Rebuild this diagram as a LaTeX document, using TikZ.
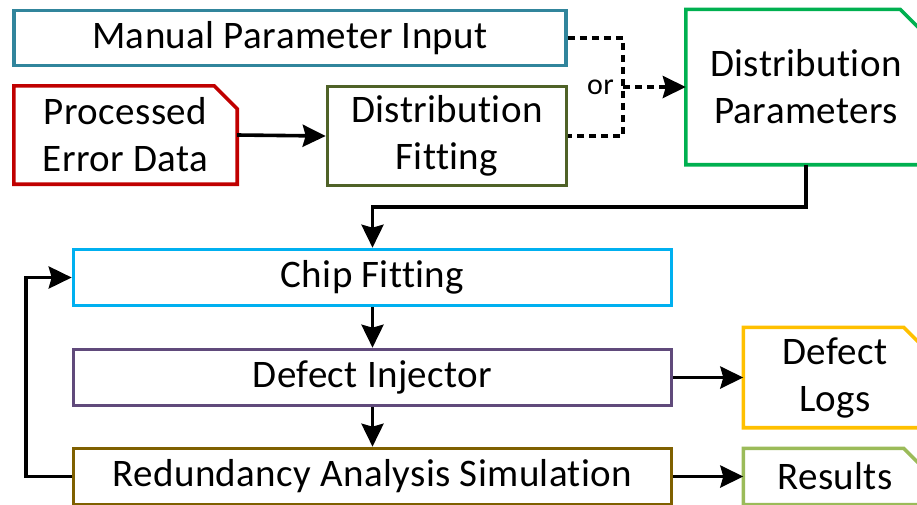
\documentclass[tikz,border=0pt]{standalone}
\usepackage{fontspec}
\setmainfont{Carlito}[Ligatures=NoCommon, LetterSpace=1]
\usetikzlibrary{arrows.meta}
\definecolor{cManual}{RGB}{49,133,156}
\definecolor{cProc}{RGB}{192,0,0}
\definecolor{cFit}{RGB}{79,98,40}
\definecolor{cParam}{RGB}{0,176,80}
\definecolor{cChip}{RGB}{0,176,240}
\definecolor{cInj}{RGB}{96,74,123}
\definecolor{cRed}{RGB}{127,96,0}
\definecolor{cLog}{RGB}{255,192,0}
\definecolor{cRes}{RGB}{155,187,89}
\begin{document}
\begin{tikzpicture}[x=1pt,y=-1pt,
  every node/.style={font=\fontsize{39}{47}\selectfont, inner sep=0pt, align=center},
  box/.style={draw=#1, line width=3.6pt, fill=white},
  snipbox/.style={draw=none},
  snipline/.style={draw=#1, line width=3.6pt, line join=miter},
  conn/.style={line width=3.6pt, black, -{Stealth[length=23pt,width=22pt,inset=3pt]}},
  dashedge/.style={line width=3.6pt, black, dash pattern=on 7pt off 5pt}]
\useasboundingbox (0,0) rectangle (917,504);
\clip (0,0) rectangle (917,504);

% boxes
\node[box=cManual, minimum width=552pt, minimum height=55pt] (manual) at (290,38) {Manual Parameter Input};
\node[snipbox, minimum width=223pt, minimum height=98pt] (proc) at (125.5,135) {Processed\\Error Data};
\draw[snipline=cProc] (proc.north west) -- ([xshift=-23pt]proc.north east) -- ([yshift=-23pt]proc.north east) -- (proc.south east) -- (proc.south west) -- cycle;
\node[box=cFit, minimum width=239pt, minimum height=99pt] (fit) at (447,136) {Distribution\\Fitting};
\node[snipbox, minimum width=240pt, minimum height=155pt] (params) at (806,87) {Distribution\\Parameters};
\draw[snipline=cParam] (params.north west) -- ([xshift=-26pt]params.north east) -- ([yshift=-26pt]params.north east) -- (params.south east) -- (params.south west) -- cycle;

\node[box=cChip, minimum width=598pt, minimum height=56pt] (chip) at (372.5,277.5) {Chip Fitting};
\node[box=cInj, minimum width=598pt, minimum height=56pt] (inj) at (372.5,377.5) {Defect Injector};
\node[box=cRed, minimum width=598pt, minimum height=56pt] (red) at (372.5,476.5) {Redundancy Analysis Simulation};

\node[snipbox, minimum width=183pt, minimum height=100pt] (logs) at (835,377.5) {Defect\\Logs};
\draw[snipline=cLog] (logs.north west) -- ([xshift=-23pt]logs.north east) -- ([yshift=-23pt]logs.north east) -- (logs.south east) -- (logs.south west) -- cycle;
\node[snipbox, minimum width=183pt, minimum height=56pt] (res) at (835,476.5) {Results};
\draw[snipline=cRes] (res.north west) -- ([xshift=-23pt]res.north east) -- ([yshift=-23pt]res.north east) -- (res.south east) -- (res.south west) -- cycle;

% connectors
\draw[conn] (proc.east) -- (fit.west);
\coordinate (jm) at (623,87);
\draw[dashedge] (manual.east) -| (jm) |- (fit.east);
\draw[dashedge, -{Stealth[length=23pt,width=22pt,inset=3pt]}] (jm) -- (params.west);
\node[font=\fontsize{30}{36}\selectfont, anchor=east] (or) at ([xshift=-9pt]jm) {or};

\draw[conn] (params.south) -- ++(0,42) -| (chip.north);
\draw[conn] (chip.south) -- (inj.north);
\draw[conn] (inj.south) -- (red.north);
\draw[conn] (inj.east) -- (logs.west);
\draw[conn] (red.east) -- (res.west);
\coordinate (fb) at (26,476.5);
\draw[conn] (red.west) -- (fb) |- (chip.west);
\end{tikzpicture}
\end{document}
